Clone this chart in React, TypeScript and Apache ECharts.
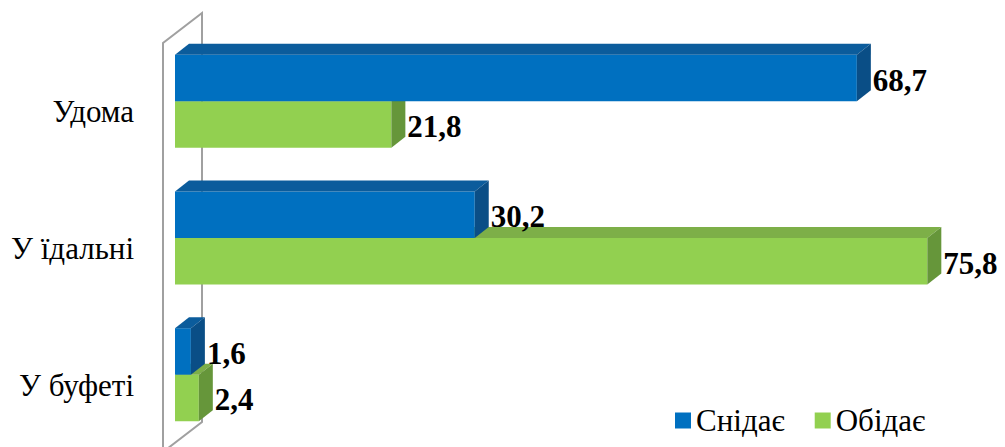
import React, { useEffect, useRef } from "react";
import * as echarts from "echarts";

const categories = ["Удома", "У їдальні", "У буфеті"];
const seriesNames = ["Снідає", "Обідає"];
const breakfast = [68.7, 30.2, 1.6];
const lunch = [21.8, 75.8, 2.4];

const FONT = "'Liberation Serif', 'Times New Roman', serif";
const DX = 14;
const DY = -11;

const palettes = [
  { front: "#0070C0", top: "#0B5C9C", side: "#0A4E86" },
  { front: "#92D050", top: "#7DAF48", side: "#66963A" },
];

function fmt(v: number) {
  return v.toFixed(1).replace(".", ",");
}

function makeRender(slot: number) {
  const pal = palettes[slot];
  return (params: any, api: any) => {
    const v = api.value(0);
    const cat = api.value(1);
    const [x0, yc] = api.coord([0, cat]);
    const [x1] = api.coord([v, cat]);
    const band = api.size([0, 1])[1];
    const h = band * 0.34;
    const yTop = slot === 0 ? yc - h : yc;
    return {
      type: "group",
      children: [
        {
          type: "rect",
          shape: { x: x0, y: yTop, width: x1 - x0, height: h },
          style: { fill: pal.front },
        },
        {
          type: "polygon",
          shape: {
            points: [
              [x0, yTop],
              [x1, yTop],
              [x1 + DX, yTop + DY],
              [x0 + DX, yTop + DY],
            ],
          },
          style: { fill: pal.top },
        },
        {
          type: "polygon",
          shape: {
            points: [
              [x1, yTop],
              [x1 + DX, yTop + DY],
              [x1 + DX, yTop + h + DY],
              [x1, yTop + h],
            ],
          },
          style: { fill: pal.side },
        },
        {
          type: "text",
          x: x1 + DX + 2,
          y: yTop + h / 2 + 2,
          style: {
            text: fmt(v),
            fill: "#000",
            fontFamily: FONT,
            fontSize: 31,
            fontWeight: "bold",
            verticalAlign: "middle",
            align: "left",
          },
        },
      ],
    };
  };
}

function renderWall(params: any, api: any) {
  const cs = params.coordSys;
  const L = cs.x;
  const T = cs.y;
  const B = cs.y + cs.height;
  const fx = L - 12;
  const bx = L + 27;
  const stroke = { stroke: "#A0A0A0", lineWidth: 2, fill: "none" };
  return {
    type: "group",
    children: [
      {
        type: "polyline",
        shape: {
          points: [
            [fx, B + 9],
            [fx, T + 10],
            [bx, T - 20],
            [bx, B - 21],
            [fx, B + 9],
          ],
        },
        style: stroke,
      },
    ],
  };
}

export default function App() {
  const ref = useRef<HTMLDivElement>(null);
  useEffect(() => {
    if (!ref.current) return;
    const chart = echarts.init(ref.current, undefined, { renderer: "svg" });
    chart.setOption({
      animation: false,
      backgroundColor: "#fff",
      grid: { left: 175, right: 36, top: 33, bottom: 4 },
      xAxis: { type: "value", min: 0, max: 80, show: false },
      yAxis: {
        type: "category",
        data: categories,
        inverse: true,
        axisLine: { show: false },
        axisTick: { show: false },
        splitLine: { show: false },
        axisLabel: {
          margin: 41,
          fontFamily: FONT,
          fontSize: 31,
          color: "#000",
          verticalAlign: "top",
          lineHeight: 21,
        },
      },
      legend: {
        data: seriesNames,
        left: 670,
        top: 400,
        icon: "rect",
        itemWidth: 16,
        itemHeight: 16,
        itemGap: 30,
        textStyle: { fontFamily: FONT, fontSize: 31, color: "#000" },
      },
      series: [
        {
          type: "custom",
          name: "wall",
          coordinateSystem: "cartesian2d",
          renderItem: renderWall,
          data: [[0, 0]],
          z: 1,
          silent: true,
        },
        {
          type: "custom",
          name: seriesNames[0],
          coordinateSystem: "cartesian2d",
          renderItem: makeRender(0),
          itemStyle: { color: palettes[0].front },
          data: breakfast.map((v, i) => [v, i]),
          encode: { x: 0, y: 1 },
          z: 4,
        },
        {
          type: "custom",
          name: seriesNames[1],
          coordinateSystem: "cartesian2d",
          renderItem: makeRender(1),
          itemStyle: { color: palettes[1].front },
          data: lunch.map((v, i) => [v, i]),
          encode: { x: 0, y: 1 },
          z: 3,
        },
      ],
    });
    return () => chart.dispose();
  }, []);
  return (
    <div
      ref={ref}
      style={{ position: "absolute", left: 0, top: 0, width: 1005, height: 447 }}
    />
  );
}
